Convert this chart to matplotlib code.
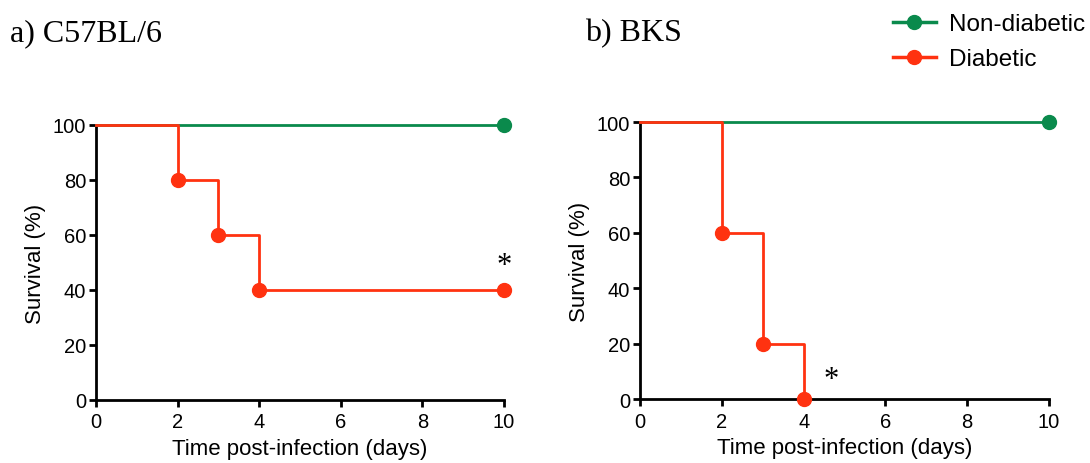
import matplotlib.pyplot as plt

plt.rcParams['font.family'] = ['Liberation Sans', 'DejaVu Sans']

# data
c57_days = [0, 2, 3, 4, 10]
c57_diabetic = [100, 80, 60, 40, 40]
c57_nondiabetic = [100, 100]
bks_days = [0, 2, 3, 4]
bks_diabetic = [100, 60, 20, 0]
bks_nondiabetic = [100, 100]
nd_days = [0, 10]
xticks = [0, 2, 4, 6, 8, 10]
yticks = [0, 20, 40, 60, 80, 100]

green = '#0a8a4c'
red = '#ff3210'

fig = plt.figure(figsize=(10.9, 4.64), dpi=100)
ax1 = fig.add_axes([0.0881, 0.1358, 0.3743, 0.5927])
ax2 = fig.add_axes([0.5872, 0.1379, 0.3752, 0.5970])


def style(ax):
    ax.set_xlim(0, 10)
    ax.set_ylim(0, 100)
    ax.set_xticks(xticks)
    ax.set_yticks(yticks)
    for s in ['top', 'right']:
        ax.spines[s].set_visible(False)
    for s in ['left', 'bottom']:
        ax.spines[s].set_linewidth(2)
    ax.tick_params(width=2, length=5, labelsize=14.5, pad=2)
    ax.tick_params(axis='x', pad=4)
    ax.set_xlabel('Time post-infection (days)', fontsize=16, labelpad=5)
    ax.set_ylabel('Survival (%)', fontsize=16, labelpad=5)


def survival(ax, days, surv, color, label, marks):
    ax.step(days, surv, where='post', color=color, lw=2, clip_on=False, zorder=3)
    ax.plot(marks[0], marks[1], 'o', color=color, ms=10, clip_on=False, zorder=4)
    ax.plot([], [], '-o', color=color, lw=2.5, ms=10, label=label)


# a) C57BL/6
survival(ax1, nd_days, c57_nondiabetic, green, 'Non-diabetic', ([10], [100]))
survival(ax1, c57_days, c57_diabetic, red, 'Diabetic', (c57_days[1:], c57_diabetic[1:]))
ax1.text(10, 49, '*', fontsize=22, family='Liberation Serif', ha='center', va='center')
style(ax1)

# b) BKS
survival(ax2, nd_days, bks_nondiabetic, green, 'Non-diabetic', ([10], [100]))
survival(ax2, bks_days, bks_diabetic, red, 'Diabetic', (bks_days[1:], bks_diabetic[1:]))
ax2.text(4.67, 7, '*', fontsize=22, family='Liberation Serif', ha='center', va='center')
style(ax2)

fig.text(0.009, 0.928, 'a) C57BL/6', fontsize=23, family='Liberation Serif', va='center')
fig.text(0.537, 0.928, 'b) BKS', fontsize=23, family='Liberation Serif', va='center')

fig.legend(*ax2.get_legend_handles_labels(), loc='upper right',
           bbox_to_anchor=(1085 / 1090, 1 - 14 / 464), borderpad=0, borderaxespad=0,
           frameon=False, fontsize=17.5, handlelength=1.75, handletextpad=0.55, labelspacing=0.55)

plt.savefig('out.png', dpi=100)
